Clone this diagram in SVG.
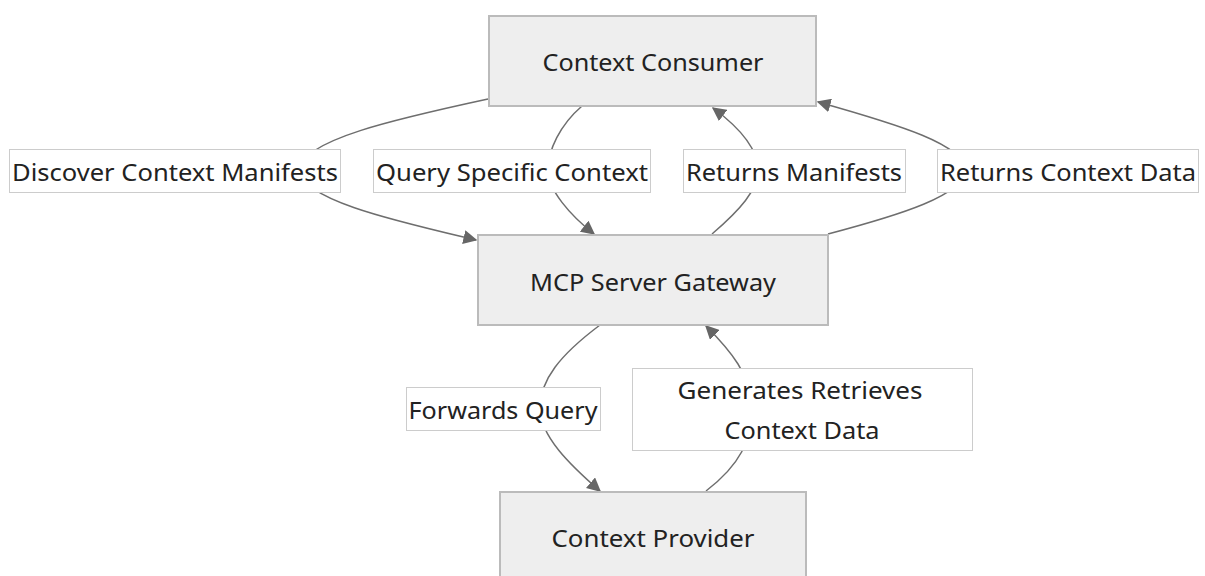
<svg xmlns="http://www.w3.org/2000/svg" width="1205" height="576" viewBox="0 0 1205 576">
<style>
.node rect{fill:#eeeeee;stroke:#bbbbbb;stroke-width:2}
.lbl rect{fill:#ffffff;stroke:#cccccc;stroke-width:1}
text{font-family:"Noto Sans","Liberation Sans",sans-serif;font-size:24px;fill:#222222;text-anchor:middle;dominant-baseline:central}
.edge{fill:none;stroke:#6e6e6e;stroke-width:1.5}
</style>
<defs>
<marker id="arr" viewBox="0 0 10 10" refX="9" refY="5" markerWidth="14" markerHeight="14" markerUnits="userSpaceOnUse" orient="auto">
<path d="M0,0 L10,5 L0,10 z" fill="#666666"/>
</marker>
</defs>
<g id="edges">
<path class="edge" d="M488,99 C400,118 300,140 300,170 C300,200 400,222 476,240" marker-end="url(#arr)"/>
<path class="edge" d="M582,106 C560,125 548,150 548,170 C548,190 570,215 594,234" marker-end="url(#arr)"/>
<path class="edge" d="M712,234 C740,210 758,190 758,170 C758,150 740,128 713,108" marker-end="url(#arr)"/>
<path class="edge" d="M828,234 C900,215 965,195 965,170 C965,145 900,125 818,102" marker-end="url(#arr)"/>
<path class="edge" d="M600,325 C560,355 540,380 540,408 C540,436 570,465 600,491" marker-end="url(#arr)"/>
<path class="edge" d="M706,491 C740,465 752,440 752,408 C752,376 730,350 706,326" marker-end="url(#arr)"/>
</g>
<g id="edge-labels">
<g class="lbl" id="lbl-discover"><rect x="9.5" y="149.5" width="331" height="43"/><text x="175" y="171" textLength="326" lengthAdjust="spacingAndGlyphs">Discover Context Manifests</text></g>
<g class="lbl" id="lbl-query"><rect x="373.5" y="149.5" width="277" height="43"/><text x="512" y="171" textLength="272" lengthAdjust="spacingAndGlyphs">Query Specific Context</text></g>
<g class="lbl" id="lbl-retman"><rect x="683.5" y="149.5" width="222" height="43"/><text x="794" y="171" textLength="216" lengthAdjust="spacingAndGlyphs">Returns Manifests</text></g>
<g class="lbl" id="lbl-retdata"><rect x="937.5" y="149.5" width="261" height="43"/><text x="1068" y="171" textLength="256" lengthAdjust="spacingAndGlyphs">Returns Context Data</text></g>
<g class="lbl" id="lbl-forward"><rect x="406.5" y="387.5" width="194" height="43"/><text x="503" y="409" textLength="189" lengthAdjust="spacingAndGlyphs">Forwards Query</text></g>
<g class="lbl" id="lbl-generates"><rect x="632.5" y="368.5" width="340" height="82"/><text x="800" y="389" textLength="245" lengthAdjust="spacingAndGlyphs">Generates Retrieves</text><text x="802" y="429" textLength="155" lengthAdjust="spacingAndGlyphs">Context Data</text></g>
</g>
<g class="node" id="consumer"><rect x="489" y="16" width="327" height="90"/><text x="653" y="61" textLength="221" lengthAdjust="spacingAndGlyphs">Context Consumer</text></g>
<g class="node" id="gateway"><rect x="478" y="235" width="350" height="90"/><text x="653" y="281" textLength="246" lengthAdjust="spacingAndGlyphs">MCP Server Gateway</text></g>
<g class="node" id="provider"><rect x="500" y="492" width="306" height="92"/><text x="653" y="537" textLength="203" lengthAdjust="spacingAndGlyphs">Context Provider</text></g>
</svg>
